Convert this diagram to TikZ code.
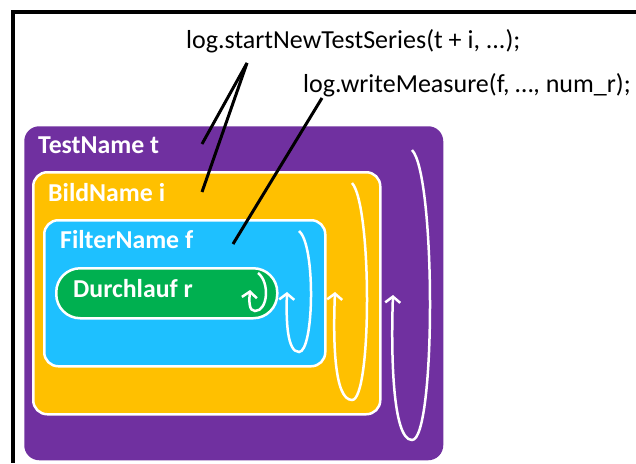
\documentclass[tikz,border=0pt]{standalone}
\usepackage{fontspec}
\setmainfont{Carlito}
\usetikzlibrary{arrows.meta}
\definecolor{testpurple}{HTML}{7030A0}
\definecolor{bildyellow}{HTML}{FFC000}
\definecolor{filterblue}{HTML}{1EC0FF}
\definecolor{laufgreen}{HTML}{00B050}
\tikzset{
  level/.style={anchor=north west, rounded corners=15pt, draw=white, line width=2.5pt, inner sep=0pt},
  levelname/.style={anchor=base west, inner sep=0pt, text=white, font=\fontsize{25.8}{30}\selectfont\bfseries},
  logcall/.style={anchor=base west, inner sep=0pt, font=\fontsize{26}{30}\selectfont},
  leader/.style={line width=3pt},
  loopline/.style={white, line width=2.5pt, -{Straight Barb[length=6pt,width=15pt]}}
}

\begin{document}
\begin{tikzpicture}[x=1pt,y=-1pt]
	\useasboundingbox (0,0) rectangle (636,463);
	\draw[line width=4pt] (636,12) -- (13,12) -- (13,463);
	% nested loops
	\node[level, draw=none, fill=testpurple, minimum width=419pt, minimum height=334pt] (test) at (23,125) {};
	\node[level, fill=bildyellow, minimum width=347pt, minimum height=242pt, rounded corners=14pt] (bild) at (32,171) {};
	\node[level, fill=filterblue, minimum width=281pt, minimum height=146pt, rounded corners=14pt] (filter) at (43,219) {};
	\node[level, fill=laufgreen, minimum width=221pt, minimum height=50pt, rounded corners=24pt] (lauf) at (55,267) {};
	\node[levelname] (testname) at (38,153) {TestName t};
	\node[levelname] (bildname) at (48,201) {BildName i};
	\node[levelname] (filtername) at (60,248) {FilterName f};
	\node[levelname] (laufname) at (73,297) {Durchlauf r};
	% repeat arrows
	\draw[loopline] (412,150) .. controls (436,175) and (436,440) .. (412,440) .. controls (392,440) and (391,350) .. (393,295);
	\draw[loopline] (352,183) .. controls (372,205) and (372,400) .. (352,400) .. controls (334,400) and (333,340) .. (335,292);
	\draw[loopline] (299,231) .. controls (316,245) and (314,352) .. (299,352) .. controls (287,352) and (286,320) .. (287,292);
	\draw[loopline] (258,273) .. controls (270,282) and (268,311) .. (255,311) .. controls (249,311) and (249,302) .. (250,290);
	% log calls
	\node[logcall] (series) at (186,48) {log.startNewTestSeries(t + i, ...);};
	\node[logcall] (measure) at (303,92) {log.writeMeasure(f, …, num\_r);};
	\coordinate (seriestip) at (247,63);
	\coordinate (measuretip) at (322,98);
	\coordinate (testend) at (202,144);
	\coordinate (bildend) at (202,192);
	\coordinate (filterend) at (233,244);
	\draw[leader] (seriestip) -- (testend);
	\draw[leader] (seriestip) -- (bildend);
	\draw[leader] (measuretip) -- (filterend);
\end{tikzpicture}
\end{document}
